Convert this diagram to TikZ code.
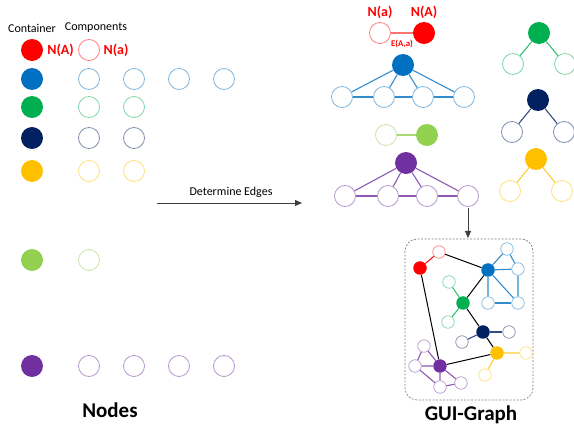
\documentclass[tikz,border=0pt]{standalone}
\usepackage{fontspec}
\setmainfont{Carlito}
\usetikzlibrary{arrows.meta}
\definecolor{cred}{HTML}{FF0000}
\definecolor{cblue}{HTML}{0070C0}
\definecolor{cgreen}{HTML}{00B050}
\definecolor{cnavy}{HTML}{002060}
\definecolor{cyellow}{HTML}{FFC000}
\definecolor{clime}{HTML}{92D050}
\definecolor{cpurple}{HTML}{7030A0}
\definecolor{arrowgray}{HTML}{404040}
\tikzset{
  fillc/.style={circle, fill=#1, minimum size=22pt, inner sep=0pt},
  openc/.style={circle, draw=#1!50, fill=white, line width=0.8pt, minimum size=21pt, inner sep=0pt},
  sfill/.style={circle, fill=#1, minimum size=13.5pt, inner sep=0pt},
  sopen/.style={circle, draw=#1!50, fill=white, line width=0.7pt, minimum size=12.5pt, inner sep=0pt},
  cedge/.style={draw=#1!80, line width=1.1pt},
  gedge/.style={draw=black, line width=1pt},
  lbl/.style={font=\fontsize{12}{14}\selectfont, inner sep=0pt},
  redlbl/.style={text=cred, font=\bfseries\fontsize{14}{16}\selectfont, inner sep=0pt},
  biglbl/.style={font=\bfseries\fontsize{21}{25}\selectfont, inner sep=0pt},
  flow/.style={draw=arrowgray, line width=0.9pt, -{Triangle[length=7pt,width=6pt]}}
}
\begin{document}
\begin{tikzpicture}[x=1pt,y=-1pt]
\useasboundingbox (0,0) rectangle (574,433);

% ---------- left: Nodes ----------
\node[lbl] (tcont) at (32,28) {Container};
\node[lbl] (tcomp) at (96,28) {Components};

\node[fillc=cred] (LA) at (32,50) {};
\node[redlbl] (LNA) at (60.5,50) {N(A)};
\node[openc=cred] (La1) at (89,50) {};
\node[redlbl] (LNa) at (116,50) {N(a)};

\node[fillc=cblue] (LB) at (32,79) {};
\foreach \i/\x in {1/89,2/134,3/179,4/224} \node[openc=cblue] (Lb\i) at (\x,79) {};
\node[fillc=cgreen] (LG) at (32,107) {};
\foreach \i/\x in {1/89,2/134} \node[openc=cgreen] (Lg\i) at (\x,107) {};
\node[fillc=cnavy] (LN) at (32,138) {};
\foreach \i/\x in {1/89,2/134} \node[openc=cnavy] (Ln\i) at (\x,138) {};
\node[fillc=cyellow] (LY) at (32,171) {};
\foreach \i/\x in {1/89,2/134} \node[openc=cyellow] (Ly\i) at (\x,171) {};
\node[fillc=clime] (LL) at (32,260) {};
\node[openc=clime] (Ll1) at (89,260) {};
\node[fillc=cpurple] (LP) at (32,366) {};
\foreach \i/\x in {1/89,2/134,3/179,4/224} \node[openc=cpurple] (Lp\i) at (\x,366) {};

\node[biglbl] (tnodes) at (110,410) {Nodes};

% ---------- arrow ----------
\coordinate (ar1) at (157,203);
\coordinate (ar2) at (302,203);
\draw[flow] (ar1) -- (ar2);
\node[lbl] (tdet) at (231,192) {Determine Edges};

% ---------- right: edges per container ----------
% red
\node[openc=cred] (Ra) at (380,33) {};
\node[fillc=cred] (RA) at (424,33) {};
\draw[draw=cred!55, line width=1.1pt] (Ra) -- (RA);
\node[redlbl] (RNa) at (380,12) {N(a)};
\node[redlbl] (RNA) at (424,12) {N(A)};
\node[text=cred, font=\bfseries\fontsize{8.7}{10}\selectfont, inner sep=0pt] (RE) at (402,44) {E(A,a)};

% blue
\node[fillc=cblue] (RB) at (403,65) {};
\node[openc=cblue] (Rb1) at (342,97) {};
\node[openc=cblue] (Rb2) at (384,97) {};
\node[openc=cblue] (Rb3) at (423,97) {};
\node[openc=cblue] (Rb4) at (464,97) {};
\foreach \i in {1,2,3,4} \draw[cedge=cblue] (RB) -- (Rb\i);
\draw[cedge=cblue] (Rb1) -- (Rb2) (Rb2) -- (Rb3) (Rb3) -- (Rb4);

% lime
\node[openc=clime] (Rl1) at (386,135) {};
\node[fillc=clime] (RL) at (427,135) {};
\draw[cedge=clime] (Rl1) -- (RL);

% purple
\node[fillc=cpurple] (RP) at (406,163) {};
\node[openc=cpurple] (Rp1) at (345,196) {};
\node[openc=cpurple] (Rp2) at (388,196) {};
\node[openc=cpurple] (Rp3) at (427,196) {};
\node[openc=cpurple] (Rp4) at (468,196) {};
\foreach \i in {1,2,3,4} \draw[cedge=cpurple] (RP) -- (Rp\i);
\draw[cedge=cpurple] (Rp1) -- (Rp2) (Rp2) -- (Rp3) (Rp3) -- (Rp4);

% green
\node[fillc=cgreen] (RG) at (539,33) {};
\node[openc=cgreen] (Rg1) at (513,64) {};
\node[openc=cgreen] (Rg2) at (565,64) {};
\draw[cedge=cgreen] (RG) -- (Rg1) (RG) -- (Rg2);

% navy
\node[fillc=cnavy] (RN) at (538,100) {};
\node[openc=cnavy] (Rn1) at (512,132) {};
\node[openc=cnavy] (Rn2) at (564,132) {};
\draw[cedge=cnavy] (RN) -- (Rn1) (RN) -- (Rn2);

% yellow
\node[fillc=cyellow] (RY) at (536,159) {};
\node[openc=cyellow] (Ry1) at (510,191) {};
\node[openc=cyellow] (Ry2) at (562,191) {};
\draw[cedge=cyellow] (RY) -- (Ry1) (RY) -- (Ry2);

% ---------- down arrow ----------
\coordinate (da1) at (468,208);
\coordinate (da2) at (468,238);
\draw[flow] (da1) -- (da2);

% ---------- GUI graph ----------
\node[draw=gray, dash pattern=on 2pt off 1.5pt, line width=0.7pt, rounded corners=12pt, minimum width=128pt, minimum height=161pt, inner sep=0pt] (box) at (469,319.5) {};

\node[sfill=cred] (GA) at (420,268) {};
\node[sopen=cred] (Ga1) at (439,252) {};
\node[sfill=cblue] (GB) at (488,270) {};
\node[sopen=cblue] (Gb1) at (507,249) {};
\node[sopen=cblue] (Gb2) at (518,269) {};
\node[sopen=cblue] (Gb3) at (488,303) {};
\node[sopen=cblue] (Gb4) at (518,303) {};
\node[sfill=cgreen] (GG) at (463,303) {};
\node[sopen=cgreen] (Gg1) at (449,282) {};
\node[sopen=cgreen] (Gg2) at (448,322) {};
\node[sfill=cnavy] (GN) at (483,332) {};
\node[sopen=cnavy] (Gn1) at (509,332) {};
\node[sopen=cnavy] (Gn2) at (462,342) {};
\node[sfill=cyellow] (GY) at (497,353) {};
\node[sopen=cyellow] (Gy1) at (526,353) {};
\node[sopen=cyellow] (Gy2) at (485,375) {};
\node[sfill=cpurple] (GP) at (440,366) {};
\node[sopen=cpurple] (Gp1) at (424,346) {};
\node[sopen=cpurple] (Gp2) at (415,366) {};
\node[sopen=cpurple] (Gp3) at (440,387) {};
\node[sopen=cpurple] (Gp4) at (461,383) {};

\draw[draw=cred, line width=1pt] (GA) -- (Ga1);
\draw[gedge] (Ga1) -- (GB) (GA) -- (GP) (GB) -- (GG) (GG) -- (GN) (GN) -- (GY) (GY) -- (GP);
\draw[cedge=cblue] (GB) -- (Gb1) (GB) -- (Gb2) (GB) -- (Gb3) (GB) -- (Gb4) (Gb1) -- (Gb2) (Gb2) -- (Gb4);
\draw[cedge=cblue, line width=1.8pt] (Gb3) -- (Gb4);
\draw[cedge=cgreen] (GG) -- (Gg1) (GG) -- (Gg2);
\draw[cedge=cnavy, line width=1.6pt] (GN) -- (Gn1);
\draw[cedge=cnavy] (GN) -- (Gn2);
\draw[cedge=cyellow] (GY) -- (Gy1) (GY) -- (Gy2);
\draw[cedge=cpurple] (GP) -- (Gp1) (Gp1) -- (Gp2) (Gp2) -- (GP) (GP) -- (Gp3) (GP) -- (Gp4) (Gp3) -- (Gp4) (Gp2) -- (Gp3);

\node[biglbl] (tgui) at (471,415) {GUI-Graph};
\end{tikzpicture}
\end{document}
